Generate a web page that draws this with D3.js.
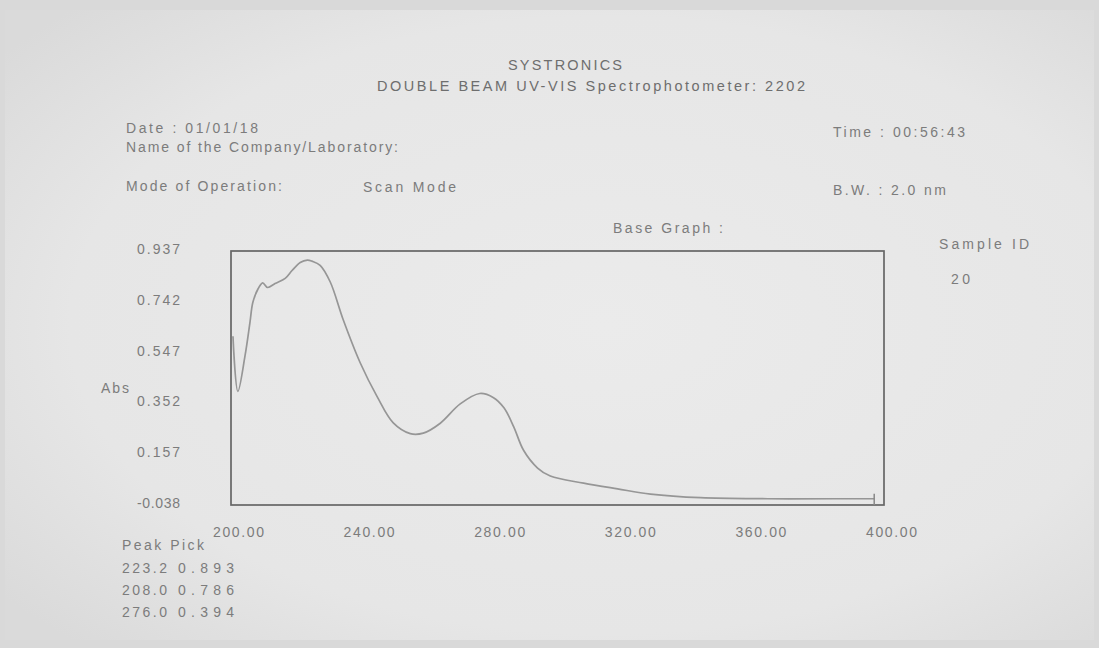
<!DOCTYPE html>
<html><head><meta charset="utf-8">
<script src="https://cdn.jsdelivr.net/npm/d3@7"></script>
<style>html,body{margin:0;padding:0;background:#e4e4e4;}svg{display:block;}</style>
</head><body>
<script>
// ---- data ----
const wavelength = [200.6, 202.1, 204.3, 205.8, 206.7, 208.3, 209.7, 211.2, 213.5, 216.6, 218.7, 221.2, 223.4, 224.8, 227.3, 230.4, 234.4, 239.6, 244.8, 249.7, 254.9, 258.9, 264.1, 270.2, 276.2, 280.4, 283.6, 286.6, 289.6, 293.9, 297.8, 308.0, 318.4, 328.5, 343.8, 364.4, 384.6, 397.0];
const absorbance = [0.610, 0.398, 0.535, 0.662, 0.740, 0.792, 0.815, 0.797, 0.812, 0.832, 0.862, 0.893, 0.902, 0.898, 0.882, 0.818, 0.672, 0.507, 0.377, 0.277, 0.236, 0.238, 0.276, 0.350, 0.390, 0.374, 0.335, 0.262, 0.172, 0.104, 0.073, 0.046, 0.024, 0.004, -0.010, -0.014, -0.014, -0.014];
const yTicks = [0.937, 0.742, 0.547, 0.352, 0.157, -0.038];
const xTicks = [200, 240, 280, 320, 360, 400];
const peakWl = ["223.2", "208.0", "276.0"];
const peakAbs = ["0.893", "0.786", "0.394"];

const W = 1099, H = 648;
const svg = d3.select("body").append("svg").attr("width", W).attr("height", H);

// paper background
const defs = svg.append("defs");
const g1 = defs.append("radialGradient").attr("id", "paper").attr("cx", "55%").attr("cy", "50%").attr("r", "70%");
g1.append("stop").attr("offset", "0%").attr("stop-color", "#ebebeb");
g1.append("stop").attr("offset", "70%").attr("stop-color", "#e6e6e6");
g1.append("stop").attr("offset", "100%").attr("stop-color", "#dadada");
svg.append("rect").attr("width", W).attr("height", H).attr("fill", "#d9d9d9");
svg.append("rect").attr("x", 5).attr("y", 10).attr("width", W - 10).attr("height", H - 18).attr("fill", "url(#paper)");

const plot = {left: 231, right: 884, top: 251, bottom: 505};
const x = d3.scaleLinear().domain([200, 400]).range([plot.left, plot.right]);
const y = d3.scaleLinear().domain([-0.038, 0.937]).range([plot.bottom, plot.top]);

const txtColor = "#7c7c7c";
const font = "'Liberation Sans', Arial, sans-serif";

function label(t, px, py, len, opts = {}) {
  const el = svg.append("text").attr("x", px).attr("y", py)
    .attr("font-family", font).attr("font-size", opts.size || 14)
    .attr("fill", opts.color || txtColor)
    .attr("dominant-baseline", "middle")
    .attr("text-anchor", opts.anchor || "start")
    .text(t);
  if (len) el.attr("textLength", len).attr("lengthAdjust", "spacing");
  return el;
}

// header texts
label("SYSTRONICS", 508, 66, 114, {size: 14.5, color: "#6e6e6e"});
label("DOUBLE BEAM UV-VIS Spectrophotometer: 2202", 377, 87, 428, {size: 14.5, color: "#6e6e6e"});
label("Date : 01/01/18", 126, 129, 132);
label("Name of the Company/Laboratory:", 126, 148, 272);
label("Mode of Operation:", 126, 187, 156);
label("Scan Mode", 363, 188, 93);
label("Time : 00:56:43", 833, 133, 132);
label("B.W. : 2.0 nm", 833, 191, 113);
label("Base Graph :", 613, 229, 110);
label("Sample ID", 939, 245, 90);
label("20", 951, 280, 19);
label("Abs", 101, 389, 28);

// box
svg.append("rect").attr("x", plot.left).attr("y", plot.top)
  .attr("width", plot.right - plot.left).attr("height", plot.bottom - plot.top)
  .attr("fill", "none").attr("stroke", "#666").attr("stroke-width", 1.7);

// y axis labels
const fmt3 = d => d3.format(".3f")(d).replace("\u2212", "-");
const yAxis = d3.axisLeft(y).tickValues(yTicks).tickSize(0).tickPadding(0).tickFormat(fmt3);
const ya = svg.append("g").attr("transform", `translate(180,-2)`).call(yAxis);
ya.select(".domain").remove();
ya.selectAll("text").attr("font-family", font).attr("font-size", 14).attr("fill", txtColor)
  .attr("textLength", 43).attr("lengthAdjust", "spacing");

// x axis labels
const xAxis = d3.axisBottom(x).tickValues(xTicks).tickSize(0).tickPadding(0)
  .tickFormat(d => d3.format(".2f")(d));
const xa = svg.append("g").attr("transform", `translate(7,${plot.bottom + 22})`).call(xAxis);
xa.select(".domain").remove();
xa.selectAll("text").attr("font-family", font).attr("font-size", 14).attr("fill", txtColor)
  .attr("textLength", 51).attr("lengthAdjust", "spacing");

// curve
const pts = wavelength.map((w, i) => [w, absorbance[i]]);
const line = d3.line().x(d => x(d[0])).y(d => y(d[1])).curve(d3.curveCatmullRom.alpha(0.5));
svg.append("path").datum(pts).attr("d", line)
  .attr("fill", "none").attr("stroke", "#969696").attr("stroke-width", 1.7);
// end marker
const last = pts[pts.length - 1];
svg.append("line").attr("x1", x(last[0])).attr("x2", x(last[0]))
  .attr("y1", y(last[1]) - 5).attr("y2", plot.bottom)
  .attr("stroke", "#888").attr("stroke-width", 1.5);

// peak pick
label("Peak Pick", 122, 546, 82);
peakWl.forEach((w, i) => {
  const py = 569 + i * 22;
  label(w, 122, py, 45);
  label(peakAbs[i], 178, py, 56);
});
</script>
</body></html>
